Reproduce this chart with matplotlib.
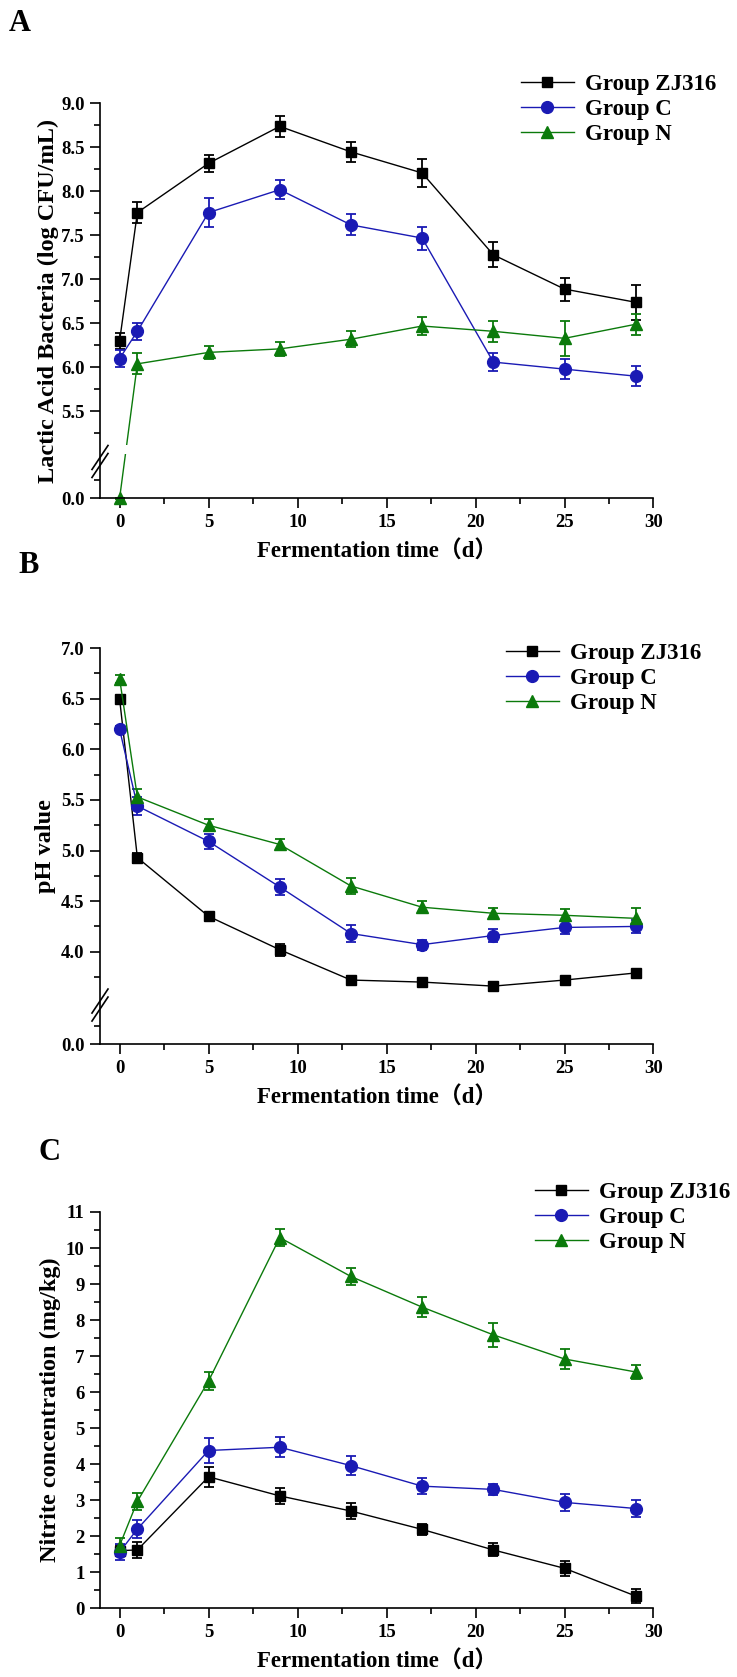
import numpy as np
import matplotlib
matplotlib.use("Agg")
import matplotlib.pyplot as plt
from matplotlib.lines import Line2D
from matplotlib.ticker import FixedLocator, FixedFormatter

plt.rcParams['font.family'] = ['Liberation Serif', 'Noto Sans CJK SC']
plt.rcParams['font.weight'] = 'bold'
plt.rcParams['axes.labelweight'] = 'bold'

days = [0, 1, 5, 9, 13, 17, 21, 25, 29]
groups = ["Group ZJ316", "Group C", "Group N"]
colors = ["#000000", "#1a1ab4", "#0b7a0b"]
markers = ["s", "o", "^"]

# A - lactic acid bacteria (log CFU/mL)
lab_zj316 = [6.30, 7.76, 8.32, 8.74, 8.45, 8.21, 7.28, 6.89, 6.74]
lab_zj316_err = [0.09, 0.12, 0.10, 0.12, 0.11, 0.16, 0.14, 0.13, 0.20]
lab_c = [6.10, 6.41, 7.76, 8.02, 7.62, 7.47, 6.06, 5.98, 5.90]
lab_c_err = [0.10, 0.10, 0.16, 0.11, 0.12, 0.13, 0.10, 0.11, 0.11]
lab_n = [0.0, 6.04, 6.17, 6.21, 6.32, 6.47, 6.41, 6.33, 6.49]
lab_n_err = [0.02, 0.12, 0.07, 0.08, 0.09, 0.10, 0.12, 0.20, 0.12]

# B - pH
ph_zj316 = [6.50, 4.93, 4.35, 4.02, 3.72, 3.70, 3.66, 3.72, 3.79]
ph_zj316_err = [0.03, 0.05, 0.03, 0.06, 0.04, 0.03, 0.04, 0.03, 0.03]
ph_c = [6.20, 5.44, 5.09, 4.64, 4.18, 4.07, 4.16, 4.24, 4.25]
ph_c_err = [0.03, 0.09, 0.07, 0.08, 0.08, 0.05, 0.06, 0.06, 0.06]
ph_n = [6.70, 5.53, 5.25, 5.06, 4.65, 4.44, 4.38, 4.36, 4.33]
ph_n_err = [0.04, 0.08, 0.06, 0.05, 0.08, 0.06, 0.05, 0.06, 0.10]

# C - nitrite (mg/kg)
nit_zj316 = [1.60, 1.62, 3.65, 3.12, 2.70, 2.19, 1.62, 1.11, 0.34]
nit_zj316_err = [0.15, 0.22, 0.27, 0.22, 0.23, 0.15, 0.18, 0.20, 0.20]
nit_c = [1.56, 2.20, 4.38, 4.47, 3.96, 3.39, 3.30, 2.94, 2.77]
nit_c_err = [0.23, 0.25, 0.34, 0.28, 0.27, 0.23, 0.15, 0.24, 0.23]
nit_n = [1.74, 2.97, 6.31, 10.29, 9.21, 8.36, 7.59, 6.92, 6.56]
nit_n_err = [0.22, 0.23, 0.26, 0.24, 0.23, 0.27, 0.33, 0.28, 0.19]

W, H = 737, 1677
fig = plt.figure(figsize=(W / 100, H / 100), dpi=100)


def px_axes(left, top, right, bottom):
    return fig.add_axes([left / W, 1 - bottom / H, (right - left) / W, (bottom - top) / H])


def broken_scale(yb, ub):
    # piecewise linear y -> display units, squeezes the gap between the segments
    def fwd(y):
        return np.interp(y, yb, ub)

    def inv(u):
        return np.interp(u, ub, yb)
    return fwd, inv


def draw_series(ax, series):
    handles = []
    for (vals, errs), col, mk, name in zip(series, colors, markers, groups):
        ms = 7.5 if mk == "s" else 8.5
        c = ax.errorbar(days, vals, yerr=errs, color=col, marker=mk, markersize=ms,
                        lw=1.0, elinewidth=1.3, capsize=3.6, capthick=1.3,
                        label=name, clip_on=False)
        for art in c.get_children():
            art.set_clip_on(False)
        handles.append(c[0])
    return handles


def style_axes(ax, ymaj, ymaj_lab, ymin, ylabel, ylab_x):
    ax.set_xlim(-1.1, 30)
    ax.xaxis.set_major_locator(FixedLocator([0, 5, 10, 15, 20, 25, 30]))
    ax.xaxis.set_minor_locator(FixedLocator([2.5, 7.5, 12.5, 17.5, 22.5, 27.5]))
    ax.yaxis.set_major_locator(FixedLocator(ymaj))
    ax.yaxis.set_major_formatter(FixedFormatter(ymaj_lab))
    ax.yaxis.set_minor_locator(FixedLocator(ymin))
    for s in ["top", "right"]:
        ax.spines[s].set_visible(False)
    for s in ["left", "bottom"]:
        ax.spines[s].set_linewidth(1.2)
    ax.tick_params(which="major", direction="out", length=7, width=1.2, labelsize=13.5, pad=4)
    ax.tick_params(which="minor", direction="out", length=4, width=1.2)
    ax.set_xlabel("Fermentation time（d）", fontsize=16.5, labelpad=7)
    ax.set_ylabel(ylabel, fontsize=17.5)
    ax.yaxis.set_label_coords(ylab_x, 0.5)


def add_legend(ax, handles, left, top):
    ax.legend(handles=handles, labels=groups, loc="upper left",
              bbox_to_anchor=(left / W, 1 - top / H), bbox_transform=fig.transFigure,
              frameon=False, fontsize=16.5, handlelength=2.3, handletextpad=0.5,
              labelspacing=0.18, borderpad=0, borderaxespad=0)


def add_break(ax, ybrk):
    x0 = ax.get_xlim()[0]
    px, py = ax.transData.transform((x0, ybrk))
    for off in (-4, 4):
        pts = np.array([[px - 8, py - 12 + off], [px + 8, py + 12 + off]])
        pts = fig.transFigure.inverted().transform(pts)
        fig.add_artist(Line2D(pts[:, 0], pts[:, 1], color="black", lw=1.2))


# ---- A ----
axA = px_axes(100, 103.5, 653.5, 498.5)
fA, iA = broken_scale([-100, 0, 1, 5, 100], [4.509 - 42, 4.509, 4.93, 5.0, 100])
axA.set_yscale("function", functions=(fA, iA))
axA.set_ylim(0, 9.0)
hA = draw_series(axA, [(lab_zj316, lab_zj316_err), (lab_c, lab_c_err), (lab_n, lab_n_err)])
axA.axhspan(5.02, 5.12, xmin=0, xmax=0.12, color="white", zorder=2.2, lw=0)
style_axes(axA, [0, 5.5, 6, 6.5, 7, 7.5, 8, 8.5, 9],
           ["0.0", "5.5", "6.0", "6.5", "7.0", "7.5", "8.0", "8.5", "9.0"],
           [0.5, 5.25, 5.75, 6.25, 6.75, 7.25, 7.75, 8.25, 8.75],
           "Lactic Acid Bacteria (log CFU/mL)", -0.074)
add_legend(axA, hA, 521, 74)
add_break(axA, 1.0)

# ---- B ----
axB = px_axes(100, 648.2, 653.5, 1044.3)
fB, iB = broken_scale([-100, 0, 1, 3.5, 100], [3.085 - 37, 3.085, 3.455, 3.5, 100])
axB.set_yscale("function", functions=(fB, iB))
axB.set_ylim(0, 7.0)
hB = draw_series(axB, [(ph_zj316, ph_zj316_err), (ph_c, ph_c_err), (ph_n, ph_n_err)])
style_axes(axB, [0, 4.0, 4.5, 5.0, 5.5, 6.0, 6.5, 7.0],
           ["0.0", "4.0", "4.5", "5.0", "5.5", "6.0", "6.5", "7.0"],
           [0.5, 3.75, 4.25, 4.75, 5.25, 5.75, 6.25, 6.75],
           "pH value", -0.079)
add_legend(axB, hB, 506, 643)
add_break(axB, 2.0)

# ---- C ----
axC = px_axes(100, 1212, 653.5, 1608.3)
axC.set_ylim(0, 11)
hC = draw_series(axC, [(nit_zj316, nit_zj316_err), (nit_c, nit_c_err), (nit_n, nit_n_err)])
style_axes(axC, list(range(12)), [str(v) for v in range(12)],
           [v + 0.5 for v in range(11)],
           "Nitrite concentration (mg/kg)", -0.071)
add_legend(axC, hC, 535, 1182)

# panel letters
fig.text(20 / W, 1 - 23.3 / H, "A", fontsize=22, ha="center", va="center")
fig.text(29 / W, 1 - 565.7 / H, "B", fontsize=22, ha="center", va="center")
fig.text(50 / W, 1 - 1152 / H, "C", fontsize=22, ha="center", va="center")

fig.savefig("out.png", dpi=100)
